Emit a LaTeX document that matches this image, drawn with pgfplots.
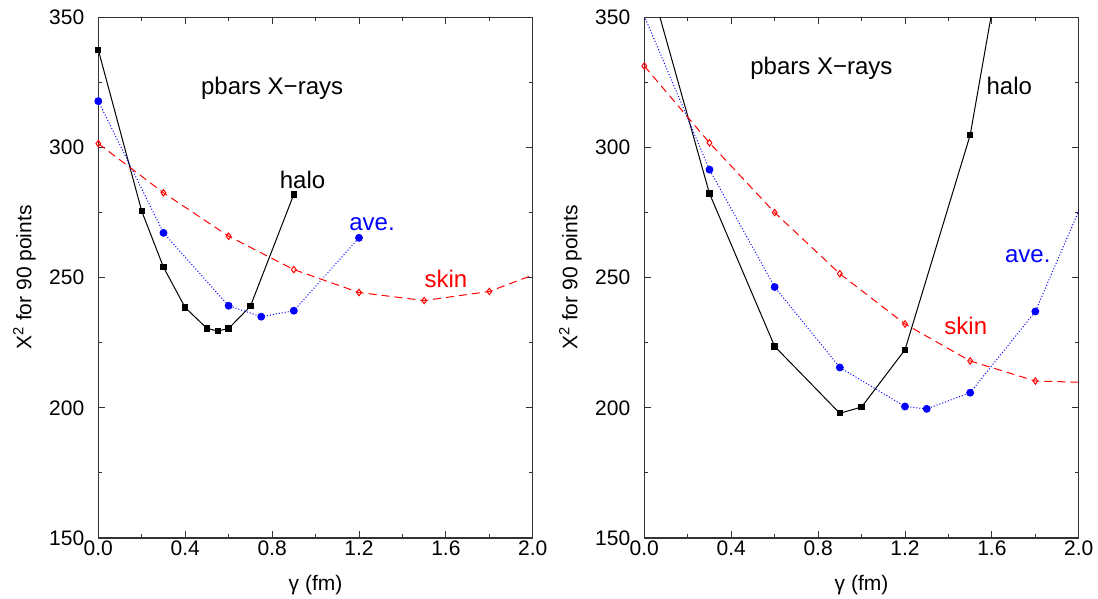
\documentclass[border=0pt]{standalone}
\usepackage{fontspec}
\setmainfont{Liberation Sans}
\usepackage{pgfplots}
\pgfplotsset{compat=1.18}

\tikzset{lbl/.style={font=\fontsize{12}{14}\selectfont}}

\pgfplotsset{
  panel/.style={
    scale only axis, width=217.25pt, height=260.35pt,
    anchor=south west,
    xmin=0, xmax=2, ymin=150, ymax=350,
    xtick={0,0.4,0.8,1.2,1.6,2.0}, minor x tick num=1,
    ytick={150,200,250,300,350}, minor y tick num=1,
    tick align=inside,
    major tick length=3.5pt, minor tick length=1.8pt,
    axis line style={line width=0.6pt, black!80},
    every tick/.style={black!80, line width=0.5pt},
    /pgf/number format/assume math mode=true,
    xticklabel style={/pgf/number format/fixed, /pgf/number format/fixed zerofill,
      /pgf/number format/precision=1, inner sep=1pt},
    yticklabel style={xshift=-3.5pt},
    font=\fontsize{10.5}{12}\selectfont,
    xlabel={γ (fm)},
    ylabel={X\textsuperscript{2} for 90 points},
    xlabel style={at={(axis description cs:0.5,0)}, anchor=center, yshift=-23.5pt},
    ylabel style={at={(axis description cs:-0.17,0.5)}, anchor=center},
  },
  halo/.style={black, line width=0.5pt, mark=square*, mark size=1.35pt, mark options={solid}},
  ave/.style={blue, line width=0.5pt, dash pattern=on 0.5pt off 1pt, mark=*, mark size=1.7pt, mark options={solid}},
  skin/.style={red, line width=0.5pt, dash pattern=on 4pt off 2.5pt, mark=diamond, mark size=1.6pt, mark options={solid, fill=white}},
}

\begin{document}
\begin{tikzpicture}
\useasboundingbox (-49.15pt,-30.5pt) rectangle (499.85pt,269pt);

% left panel
\begin{axis}[panel, at={(0pt,0pt)}]
  \addplot[halo] coordinates {
    (0.0,337.5) (0.2,275.5) (0.3,254.0) (0.4,238.5) (0.5,230.5)
    (0.55,229.5) (0.6,230.5) (0.7,239.0) (0.9,282.0)
  };
  \addplot[ave] coordinates {
    (0.0,317.8) (0.3,267.2) (0.6,239.2) (0.75,235.0) (0.9,237.3) (1.2,265.3)
  };
  \addplot[skin, mark indices={1,...,7}] coordinates {
    (0.0,301.5) (0.3,282.6) (0.6,265.9) (0.9,253.1) (1.2,244.3)
    (1.5,241.2) (1.8,244.7) (2.0,251.0)
  };
  \node[lbl] at (axis cs:0.80,322.7) {pbars X−rays};
  \node[lbl] at (axis cs:0.94,287.4) {halo};
  \node[lbl, blue] at (axis cs:1.26,270.5) {ave.};
  \node[lbl, red] at (axis cs:1.60,249.4) {skin};
\end{axis}

% right panel (points beyond the frame continue the curves and are clipped)
\begin{axis}[panel, at={(273pt,0pt)}]
  \addplot[halo] coordinates {
    (0.0,371.4) (0.3,282.3) (0.6,223.6) (0.9,197.9) (1.0,200.3)
    (1.2,222.3) (1.5,304.8) (1.8,447.0)
  };
  \addplot[ave] coordinates {
    (0.0,350.5) (0.3,291.5) (0.6,246.4) (0.9,215.5) (1.2,200.5)
    (1.3,199.6) (1.5,205.8) (1.8,237.0) (2.1,295.0)
  };
  \addplot[skin] coordinates {
    (0.0,331.3) (0.3,301.8) (0.6,275.0) (0.9,251.5) (1.2,232.2)
    (1.5,218.0) (1.8,210.3) (2.1,209.6)
  };
  \node[lbl] at (axis cs:0.815,330.4) {pbars X−rays};
  \node[lbl] at (axis cs:1.68,323.6) {halo};
  \node[lbl, blue] at (axis cs:1.765,258.2) {ave.};
  \node[lbl, red] at (axis cs:1.48,231.3) {skin};
\end{axis}
\end{tikzpicture}
\end{document}
